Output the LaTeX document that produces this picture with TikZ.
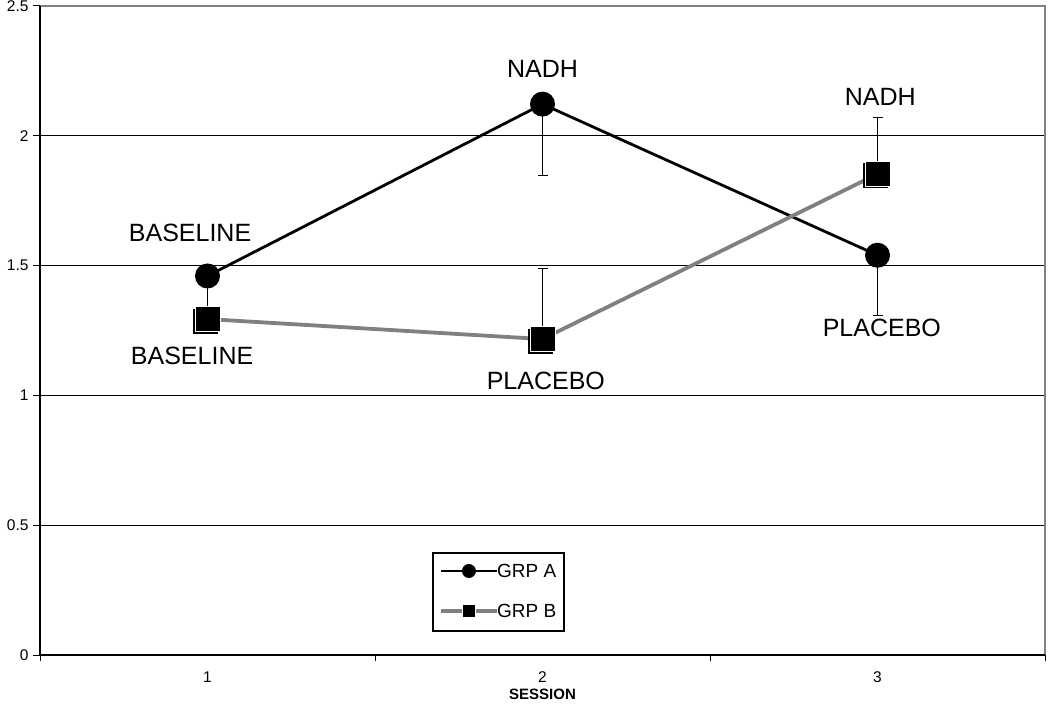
\documentclass[tikz,border=0pt]{standalone}
\usepackage{fontspec}
\setmainfont{Liberation Sans}
\usetikzlibrary{arrows.meta,calc}
\definecolor{grpgray}{RGB}{128,128,128}
\tikzset{
  dotA/.style={circle,fill=black,minimum size=25pt,inner sep=0pt},
  sqB/.style={rectangle,fill=black,draw=white,line width=0.6pt,minimum size=25pt,inner sep=0pt},
  lineA/.style={line width=2.8pt},
  lineB/.style={grpgray,line width=3.8pt},
  errbar/.style={line width=1.3pt,-{Bar[width=10pt,line width=1.3pt]}},
  gridline/.style={line width=1pt},
  tagtext/.style={font=\fontsize{25}{28}\selectfont},
  ticktext/.style={font=\fontsize{15.5}{18}\selectfont},
  legtext/.style={font=\fontsize{19}{22}\selectfont,anchor=west,inner sep=0pt},
}
\begin{document}
\begin{tikzpicture}[x=335pt,y=259.6pt]
	\useasboundingbox (0.3806,-0.2273) rectangle (3.5149,2.5231);
	% grid and frame
	\foreach \v in {0.5,1,1.5,2}
		\draw[gridline] (0.5,\v) -- (3.5,\v);
	\draw[grpgray,line width=2pt] (0.5,2.5) -- (3.5,2.5) -- (3.5,0);
	\draw[line width=2pt] (0.5,2.5) -- (0.5,0) -- (3.5,0);
	\foreach \v [count=\i] in {0,0.5,1,1.5,2,2.5}
		\draw[line width=1pt] (0.5,\v) -- ++(-7pt,0) node[left,ticktext,inner sep=4pt] (ylab\i) {\v};
	\foreach \x in {0.5,1.5,2.5,3.5}
		\draw[line width=1pt] (\x,0) -- ++(0,-6pt);
	\foreach \s in {1,2,3}
		\node[ticktext] (xlab\s) at (\s,-0.085) {\s};
	\node[font=\bfseries\fontsize{15}{18}\selectfont] (xtitle) at (2,-0.150) {SESSION};
	% data
	\coordinate (a1) at (1,1.46);
	\coordinate (a2) at (2,2.122);
	\coordinate (a3) at (3,1.54);
	\coordinate (b1) at (1,1.294);
	\coordinate (b2) at (2,1.217);
	\coordinate (b3) at (3,1.853);
	\coordinate (ea1) at (1,1.27);
	\coordinate (ea2) at (2,1.845);
	\coordinate (ea3) at (3,1.305);
	\coordinate (eb2) at (2,1.49);
	\coordinate (eb3) at (3,2.073);
	\draw[errbar] (a1) -- (ea1);
	\draw[errbar] (a2) -- (ea2);
	\draw[errbar] (a3) -- (ea3);
	\draw[errbar] (b2) -- (eb2);
	\draw[errbar] (b3) -- (eb3);
	\draw[lineA] (a1) -- (a2) -- (a3);
	\draw[lineB] (b1) -- (b2) -- (b3);
	\foreach \p in {1,2,3} {
		\node[dotA] (ma\p) at (a\p) {};
		\node[sqB,draw=none] (sb\p) at ($(b\p)+(-2pt,-2pt)$) {};
		\node[sqB] (mb\p) at (b\p) {};
	}
	% labels
	\node[tagtext] (baseA) at (0.948,1.625) {BASELINE};
	\node[tagtext] (baseB) at (0.954,1.152) {BASELINE};
	\node[tagtext] (nadhA) at (2.0,2.258) {NADH};
	\node[tagtext] (placB) at (2.01,1.055) {PLACEBO};
	\node[tagtext] (nadhB) at (3.008,2.149) {NADH};
	\node[tagtext] (placA) at (3.013,1.26) {PLACEBO};
	% legend
	\draw[line width=1.3pt] (1.6731,0.0924) rectangle (2.0642,0.3929);
	\coordinate (la0) at (1.697,0.3236);
	\coordinate (la1) at (1.864,0.3236);
	\coordinate (lb0) at (1.697,0.1695);
	\coordinate (lb1) at (1.864,0.1695);
	\draw[lineA] (la0) -- (la1);
	\draw[lineB] (lb0) -- (lb1);
	\node[dotA,minimum size=14pt] (ldA) at ($(la0)!0.5!(la1)$) {};
	\node[sqB,minimum size=13pt,line width=0.4pt] (lsB) at ($(lb0)!0.5!(lb1)$) {};
	\node[legtext] (legA) at (la1) {GRP A};
	\node[legtext] (legB) at (lb1) {GRP B};
\end{tikzpicture}
\end{document}
